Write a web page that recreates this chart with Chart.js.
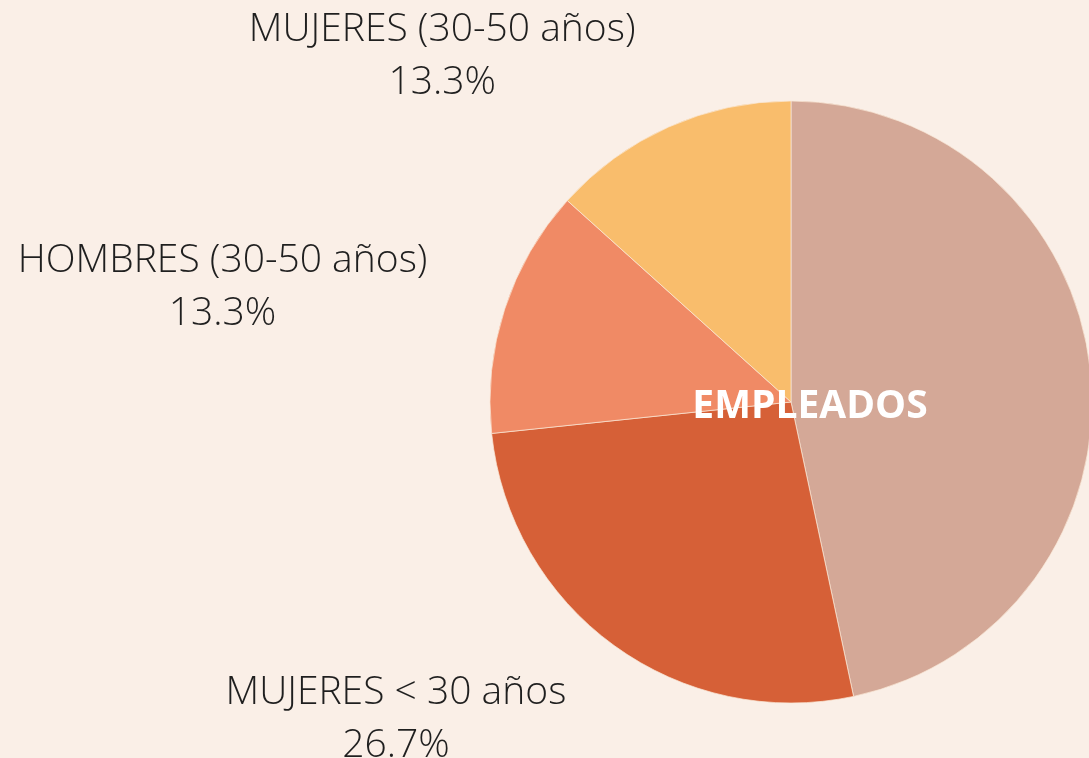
<!DOCTYPE html>
<html>
<head>
<meta charset="utf-8">
<script src="https://cdn.jsdelivr.net/npm/chart.js@4/dist/chart.umd.min.js"></script>
<style>
  html, body { margin: 0; padding: 0; background: #FAEFE7; overflow: hidden; }
  #wrap { width: 1089px; height: 758px; position: relative; }
</style>
</head>
<body>
<div id="wrap"><canvas id="chart"></canvas></div>
<script>
// employees by group (headcount out of 15)
const categories = ['HOMBRES < 30 años', 'MUJERES < 30 años', 'HOMBRES (30-50 años)', 'MUJERES (30-50 años)'];
const employees = [7, 4, 2, 2];
const sliceColors = ['#D4A897', '#D66037', '#F08A65', '#F9BD6C'];
const centerTitle = 'EMPLEADOS';

const total = employees.reduce((a, b) => a + b, 0);

// outside labels: name + percent, pushed out along the slice's mid angle
const outerLabels = {
  id: 'outerLabels',
  afterDatasetsDraw(chart) {
    const ctx = chart.ctx;
    const meta = chart.getDatasetMeta(0);
    ctx.save();
    ctx.fillStyle = '#1f1f1f';
    ctx.font = '300 39px "Open Sans"';
    ctx.textBaseline = 'alphabetic';
    meta.data.forEach((arc, i) => {
      const p = arc.getProps(['x', 'y', 'startAngle', 'endAngle', 'outerRadius'], true);
      const mid = (p.startAngle + p.endAngle) / 2;
      const vx = Math.cos(mid);
      const vy = Math.sin(mid);
      const m = Math.max(Math.abs(vx), Math.abs(vy));
      const blockH = 95;
      const x = p.x + p.outerRadius * 1.27 * vx;
      const cy = p.y + p.outerRadius * 1.096 * vy + (blockH / 2) * vy / m;
      ctx.textAlign = vx < 0 ? 'right' : 'left';
      const pct = (employees[i] / total * 100).toFixed(1) + '%';
      // center the second line under the first
      const w1 = ctx.measureText(categories[i]).width;
      const w2 = ctx.measureText(pct).width;
      const shift = vx < 0 ? -(w1 - w2) / 2 : (w1 - w2) / 2;
      ctx.fillText(categories[i], x, cy - 26.5 + 14);
      ctx.fillText(pct, x + shift, cy + 26.5 + 14);
    });
    ctx.restore();
  }
};

const centerText = {
  id: 'centerText',
  afterDatasetsDraw(chart) {
    const ctx = chart.ctx;
    const arc = chart.getDatasetMeta(0).data[0];
    ctx.save();
    ctx.fillStyle = '#ffffff';
    ctx.font = 'bold 39px "Open Sans"';
    ctx.textAlign = 'center';
    ctx.textBaseline = 'alphabetic';
    ctx.fillText(centerTitle, arc.x + 19, arc.y + 16);
    ctx.restore();
  }
};

new Chart(document.getElementById('chart'), {
  type: 'pie',
  data: {
    labels: categories,
    datasets: [{
      data: employees,
      backgroundColor: sliceColors,
      borderColor: 'rgba(250, 232, 215, 0.7)',
      borderWidth: 1,
      radius: 301
    }]
  },
  options: {
    responsive: true,
    maintainAspectRatio: false,
    animation: false,
    layout: { padding: { left: 493, top: 46, right: 0, bottom: 0 } },
    plugins: {
      legend: { display: false },
      tooltip: { enabled: false }
    }
  },
  plugins: [outerLabels, centerText]
});
</script>
</body>
</html>
